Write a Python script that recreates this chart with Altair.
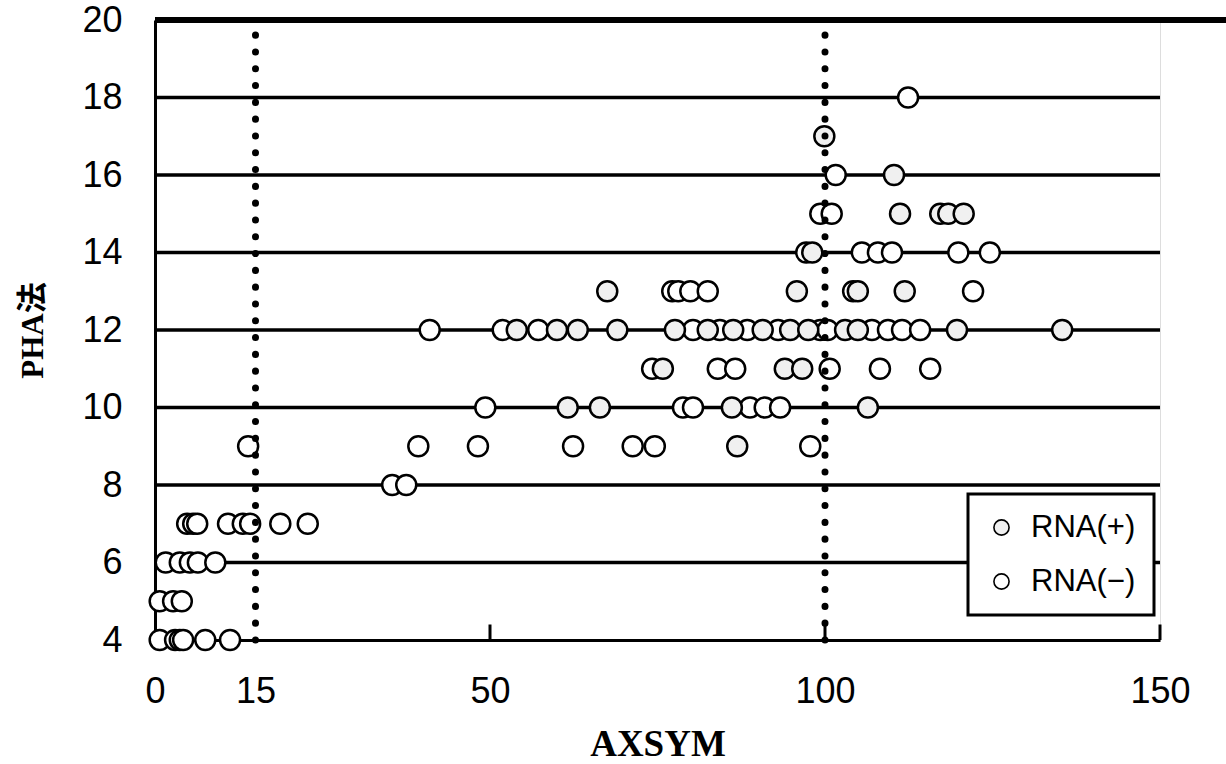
import altair as alt
import pandas as pd

# ---- data (AXSYM vs PHA法) ----
pos_x = [99.9, 110.3, 111.2, 117.2, 118.4, 120.7, 98.1,
         67.5, 95.8, 104.9, 111.9,
         54.0, 60.0, 63.1, 69.0, 77.6, 82.5, 86.3, 90.7, 94.8, 97.5, 103.0, 104.9, 119.7, 135.4,
         75.8, 94.0, 96.6,
         61.6, 66.4, 86.1, 106.4,
         86.9]
pos_y = [17, 16, 15, 15, 15, 15, 14,
         13, 13, 13, 13,
         12, 12, 12, 12, 12, 12, 12, 12, 12, 12, 12, 12, 12, 12,
         11, 11, 11,
         10, 10, 10, 10,
         9]

neg_x = [112.4, 101.6, 99.3, 101.0, 97.2, 105.5, 107.9, 110.0, 119.9, 124.6,
         77.2, 78.1, 79.9, 82.5, 104.2, 122.1,
         41.0, 51.9, 57.2, 80.3, 84.3, 88.4, 93.0, 99.3, 100.4, 107.0, 109.4, 111.5, 114.2,
         74.2, 84.0, 86.6, 100.7, 108.2, 115.7,
         49.3, 78.8, 80.3, 88.8, 91.0, 93.3,
         13.9, 39.3, 48.2, 62.4, 71.3, 74.6, 97.8,
         35.4, 37.5,
         4.8, 5.7, 6.3, 10.9, 13.1, 14.2, 18.7, 22.8,
         1.6, 3.7, 5.2, 6.4, 9.0,
         0.7, 2.7, 4.0,
         0.7, 3.0, 3.7, 4.2, 7.5, 11.2]
neg_y = [18, 16, 15, 15, 14, 14, 14, 14, 14, 14,
         13, 13, 13, 13, 13, 13,
         12, 12, 12, 12, 12, 12, 12, 12, 12, 12, 12, 12, 12,
         11, 11, 11, 11, 11, 11,
         10, 10, 10, 10, 10, 10,
         9, 9, 9, 9, 9, 9, 9,
         8, 8,
         7, 7, 7, 7, 7, 7, 7, 7,
         6, 6, 6, 6, 6,
         5, 5, 5,
         4, 4, 4, 4, 4, 4]

labels = ["RNA(+)", "RNA(\u2212)"]
grid_y = [6, 8, 10, 12, 14, 16, 18]
cut_x = [15, 100]
x_ticks = [0, 15, 50, 100, 150]
y_ticks = [4, 6, 8, 10, 12, 14, 16, 18, 20]
inner_ticks = [50, 100, 150]

pts = pd.DataFrame({
    "x": pos_x + neg_x,
    "y": pos_y + neg_y,
    "rna": [labels[0]] * len(pos_x) + [labels[1]] * len(neg_x),
})
grid = pd.DataFrame({"y": grid_y, "x0": 0, "x1": 150})
cuts = pd.DataFrame({"x": cut_x, "y0": 4, "y1": 20})
ticks = pd.DataFrame({"x": inner_ticks, "y0": 4, "y1": 4.4})
top = pd.DataFrame({"y": [20]})

xs = alt.Scale(domain=[0, 150], nice=False, zero=False)
ys = alt.Scale(domain=[4, 20], nice=False, zero=False)

x_axis = alt.Axis(
    values=x_ticks, title="AXSYM", grid=False, ticks=False,
    labelFont="Liberation Sans", labelFontSize=36, labelColor="black",
    labelPadding=34, labelFlush=False,
    domainColor="black", domainWidth=3,
    titleFont="Liberation Serif", titleFontSize=37, titleFontWeight="bold",
    titleColor="black", titlePadding=17)
y_axis = alt.Axis(
    values=y_ticks, title="PHA法", grid=False, ticks=False,
    labelFont="Liberation Sans", labelFontSize=36, labelColor="black",
    labelPadding=33, labelFlush=False,
    domainColor="black", domainWidth=3,
    titleFont="Liberation Serif, Noto Sans CJK JP", titleFontSize=31, titleFontWeight="bold",
    titleColor="black", titlePadding=32)

grid_layer = alt.Chart(grid).mark_rule(color="black", strokeWidth=3.5).encode(
    x=alt.X("x0:Q", scale=xs, axis=x_axis), x2="x1:Q",
    y=alt.Y("y:Q", scale=ys, axis=y_axis))

top_layer = alt.Chart(top).mark_rule(color="black", strokeWidth=6).encode(
    y=alt.Y("y:Q", scale=ys, axis=y_axis), x=alt.value(0), x2=alt.value(1071))

tick_layer = alt.Chart(ticks).mark_rule(color="black", strokeWidth=3).encode(
    x=alt.X("x:Q", scale=xs, axis=x_axis),
    y=alt.Y("y0:Q", scale=ys, axis=y_axis), y2="y1:Q")

point_layer = alt.Chart(pts).mark_circle(
    size=400, opacity=1, stroke="black", strokeWidth=2.5
).encode(
    x=alt.X("x:Q", scale=xs, axis=x_axis),
    y=alt.Y("y:Q", scale=ys, axis=y_axis),
    fill=alt.Fill("rna:N", scale=alt.Scale(domain=labels, range=["#f0f0f0", "#ffffff"]),
                  legend=alt.Legend(
                      title=None, orient="none", legendX=813, legendY=474,
                      fillColor="white", strokeColor="black",
                      padding=18, rowPadding=22,
                      labelFont="Liberation Sans", labelFontSize=31, labelColor="black",
                      labelOffset=14, symbolType="circle", symbolSize=230,
                      symbolStrokeColor="black", symbolStrokeWidth=1.6,
                      symbolOpacity=1)),
    order=alt.Order("rna:N", sort="descending"),
)

cut_layer = alt.Chart(cuts).mark_rule(
    color="black", strokeWidth=7, strokeDash=[0.1, 16.7], strokeCap="round"
).encode(
    x=alt.X("x:Q", scale=xs, axis=x_axis),
    y=alt.Y("y0:Q", scale=ys, axis=y_axis), y2="y1:Q")

chart = alt.layer(grid_layer, tick_layer, point_layer, cut_layer, top_layer).properties(
    width=1005, height=620,
    autosize=alt.AutoSizeParams(type="none"),
    padding={"left": 155, "top": 20, "right": 66, "bottom": 124},
).configure_view(strokeWidth=0, stroke="transparent").configure(background="white").configure_legend(strokeWidth=3)

chart.save("out.html", embed_options={"renderer": "svg", "actions": False})
